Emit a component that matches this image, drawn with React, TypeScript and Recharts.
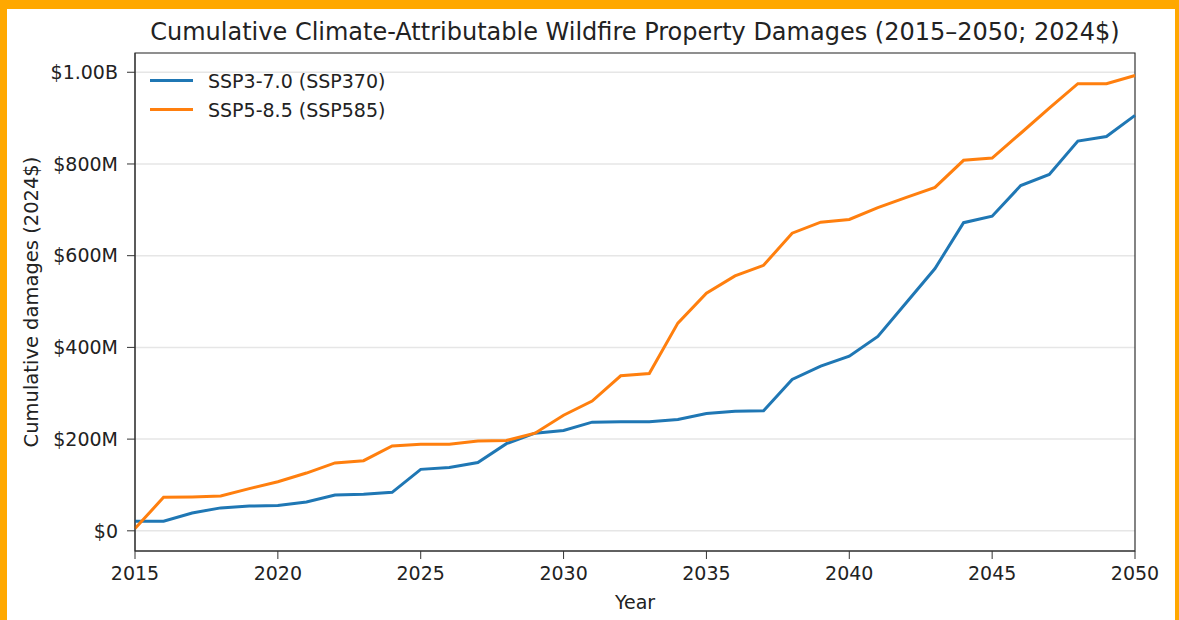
import { LineChart, Line, XAxis, YAxis, CartesianGrid, ReferenceArea } from 'recharts'

const years = [
  2015, 2016, 2017, 2018, 2019, 2020, 2021, 2022, 2023, 2024, 2025, 2026,
  2027, 2028, 2029, 2030, 2031, 2032, 2033, 2034, 2035, 2036, 2037, 2038,
  2039, 2040, 2041, 2042, 2043, 2044, 2045, 2046, 2047, 2048, 2049, 2050,
]

// values in millions of 2024$
const ssp370 = [
  21, 21, 39, 50, 54, 55, 63, 78, 80, 84, 134, 138,
  149, 190, 213, 219, 237, 238, 238, 243, 256, 261, 262, 330,
  359, 381, 424, 498, 572, 672, 686, 753, 777, 850, 860, 906,
]

const ssp585 = [
  5, 73, 74, 76, 92, 107, 126, 148, 153, 185, 189, 189,
  196, 197, 213, 252, 283, 338, 343, 453, 518, 556, 579, 649,
  673, 679, 705, 727, 749, 808, 813, 867, 922, 975, 975, 993,
]

const xTicks = [2015, 2020, 2025, 2030, 2035, 2040, 2045, 2050]
const yTicks = [0, 200, 400, 600, 800, 1000]
const yTickLabels = ['$0', '$200M', '$400M', '$600M', '$800M', '$1.00B']

const SERIES = [
  { key: 'ssp370', name: 'SSP3-7.0 (SSP370)', color: '#1f77b4' },
  { key: 'ssp585', name: 'SSP5-8.5 (SSP585)', color: '#ff7f0e' },
]

const data = years.map((year, i) => ({ year, ssp370: ssp370[i], ssp585: ssp585[i] }))

const FONT = '"DejaVu Sans", sans-serif'
const Y_MIN = -44
const Y_MAX = 1042

export default function App() {
  return (
    <div style={{ position: 'fixed', left: 0, top: 0, width: 1179, height: 620, background: '#ffa800' }}>
      <div style={{ position: 'absolute', left: 7, top: 9, width: 1168, height: 611, background: '#fff' }} />
      <div
        style={{
          position: 'absolute', left: 135, width: 1000, top: 18, textAlign: 'center',
          fontFamily: FONT, fontSize: 24, color: '#222', whiteSpace: 'nowrap',
        }}
      >
        Cumulative Climate-Attributable Wildfire Property Damages (2015–2050; 2024$)
      </div>
      <div style={{ position: 'absolute', left: 0, top: 0 }}>
        <LineChart width={1179} height={620} data={data} margin={{ top: 53, right: 44, bottom: 0, left: 0 }}>
          <CartesianGrid vertical={false} stroke="#e6e6e6" strokeWidth={1.5} />
          <XAxis
            dataKey="year"
            type="number"
            domain={[2015, 2050]}
            ticks={xTicks}
            height={69}
            stroke="#333"
            tickSize={8}
            tickMargin={8}
            tick={{ fill: '#222', fontSize: 19, fontFamily: FONT }}
            label={{ value: 'Year', position: 'insideBottom', offset: 11, fill: '#222', fontSize: 19, fontFamily: FONT }}
          />
          <YAxis
            type="number"
            domain={[Y_MIN, Y_MAX]}
            ticks={yTicks}
            width={135}
            stroke="#333"
            tickSize={8}
            tickMargin={9}
            tickFormatter={(v: number) => yTickLabels[yTicks.indexOf(v)] ?? ''}
            tick={{ fill: '#222', fontSize: 19, fontFamily: FONT }}
            label={{
              value: 'Cumulative damages (2024$)', angle: -90, position: 'insideLeft', offset: 31,
              style: { textAnchor: 'middle' }, fill: '#222', fontSize: 19.5, fontFamily: FONT,
            }}
          />
          <ReferenceArea x1={2015} x2={2050} y1={Y_MIN} y2={Y_MAX} fill="none" stroke="#333" strokeWidth={1.2} />
          {SERIES.map((s) => (
            <Line
              key={s.key}
              type="linear"
              dataKey={s.key}
              name={s.name}
              stroke={s.color}
              strokeWidth={3}
              dot={false}
              activeDot={false}
              isAnimationActive={false}
            />
          ))}
        </LineChart>
      </div>
      <div style={{ position: 'absolute', left: 150, top: 66, fontFamily: FONT, fontSize: 19, color: '#222' }}>
        {SERIES.map((s) => (
          <div key={s.key} style={{ display: 'flex', alignItems: 'center', height: 29 }}>
            <div style={{ width: 43, height: 3, background: s.color, marginRight: 15 }} />
            <span>{s.name}</span>
          </div>
        ))}
      </div>
    </div>
  )
}
